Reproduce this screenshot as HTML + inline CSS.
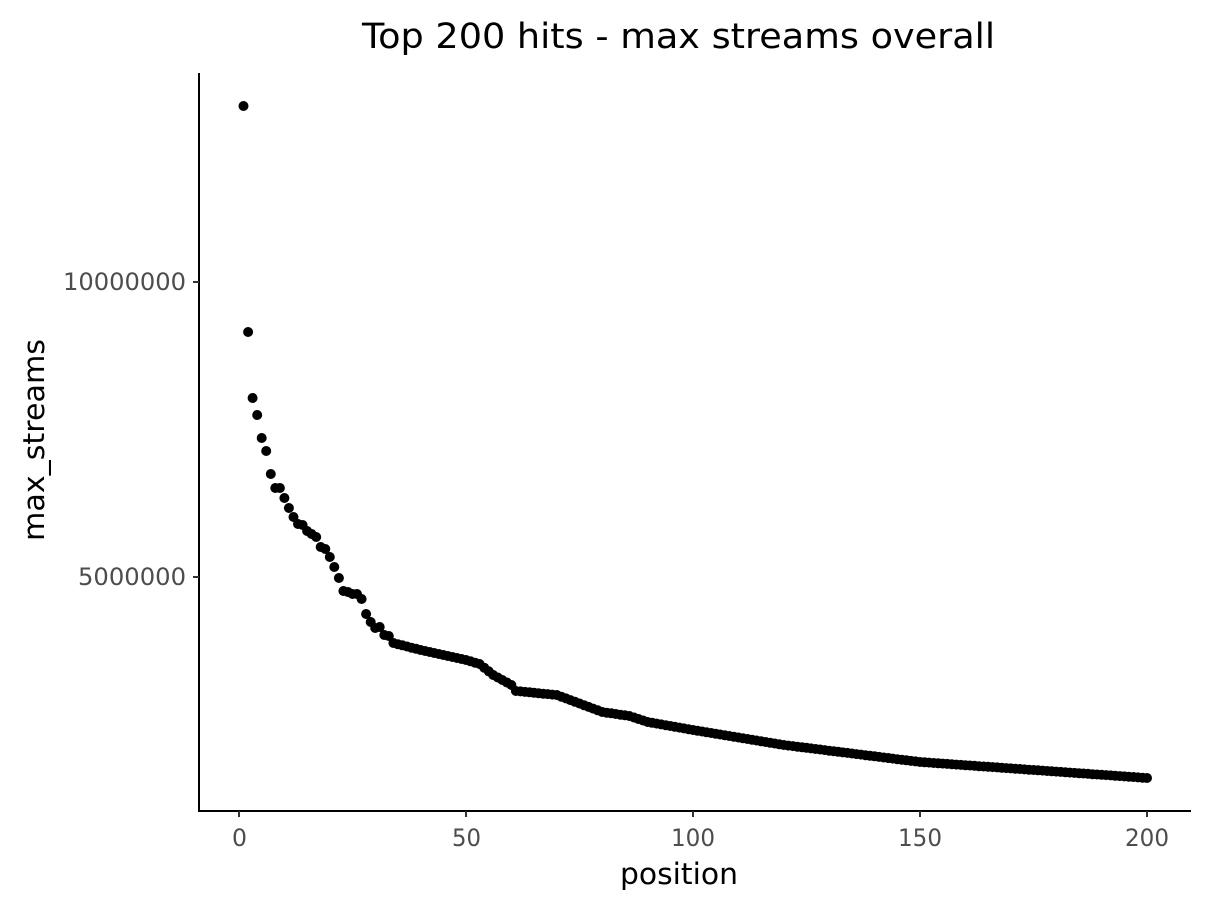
<!DOCTYPE html>
<html><head><meta charset="utf-8"><style>
html,body{margin:0;padding:0;background:#fff}
svg{display:block;font-family:"DejaVu Sans","Liberation Sans",sans-serif}
</style></head><body>
<svg id="s" width="1210" height="911" xmlns="http://www.w3.org/2000/svg">
<rect width="1210" height="911" fill="#fff"/>
<text x="362" y="48" font-size="35" textLength="633" lengthAdjust="spacingAndGlyphs" fill="#000">Top 200 hits - max streams overall</text>
<line x1="199" y1="73" x2="199" y2="812" stroke="#000" stroke-width="2"/>
<line x1="198" y1="811" x2="1191" y2="811" stroke="#000" stroke-width="2"/>
<g stroke="#333" stroke-width="2">
<line x1="193" y1="282" x2="199" y2="282"/><line x1="193" y1="577" x2="199" y2="577"/>
<line x1="239" y1="811" x2="239" y2="817"/><line x1="466" y1="811" x2="466" y2="817"/>
<line x1="693" y1="811" x2="693" y2="817"/><line x1="920" y1="811" x2="920" y2="817"/>
<line x1="1147" y1="811" x2="1147" y2="817"/>
</g>
<g font-size="24" fill="#4d4d4d">
<text x="63" y="290" textLength="123" lengthAdjust="spacingAndGlyphs">10000000</text>
<text x="78" y="585" textLength="108" lengthAdjust="spacingAndGlyphs">5000000</text>
<text x="232" y="846" textLength="15" lengthAdjust="spacingAndGlyphs">0</text>
<text x="452" y="846" textLength="29" lengthAdjust="spacingAndGlyphs">50</text>
<text x="671" y="846" textLength="44" lengthAdjust="spacingAndGlyphs">100</text>
<text x="898" y="846" textLength="44" lengthAdjust="spacingAndGlyphs">150</text>
<text x="1125" y="846" textLength="44" lengthAdjust="spacingAndGlyphs">200</text>
</g>
<text x="620" y="884" font-size="29" textLength="118" lengthAdjust="spacingAndGlyphs">position</text>
<text transform="translate(44,541) rotate(-90)" font-size="29" textLength="202" lengthAdjust="spacingAndGlyphs">max_streams</text>
<g id="pts" fill="#000"></g>
</svg>
<script>
var k=[[1,106],[2,332],[3,398],[4,415],[5,438],[6,451],[7,474],[8,488],[9,488],[10,498],[11,508],[12,517],[13,524],[14,525],[15,531],[16,534],[17,537],[18,547],[19,549],[20,557],[21,567],[22,578],[23,591],[24,592],[25,594],[26,594],[27,599],[28,614],[29,622],[30,628],[31,627],[32,635],[33,636],[34,643],[40,650],[50,660],[53,664],[56,675],[60,685],[61,691],[70,695],[80,712],[86,716],[90,722],[100,730],[120,745],[150,762],[175,770],[200,778]];
var g=document.getElementById('pts'),h='';
for(var i=1;i<=200;i++){var y;for(var j=0;j<k.length;j++){if(k[j][0]==i){y=k[j][1];break;}if(k[j][0]>i){var a=k[j-1],b=k[j];y=a[1]+(b[1]-a[1])*(i-a[0])/(b[0]-a[0]);break;}}
h+='<circle cx="'+(239+4.54*i).toFixed(1)+'" cy="'+y.toFixed(1)+'" r="5"/>';}
g.innerHTML=h;
</script>
</body></html>
